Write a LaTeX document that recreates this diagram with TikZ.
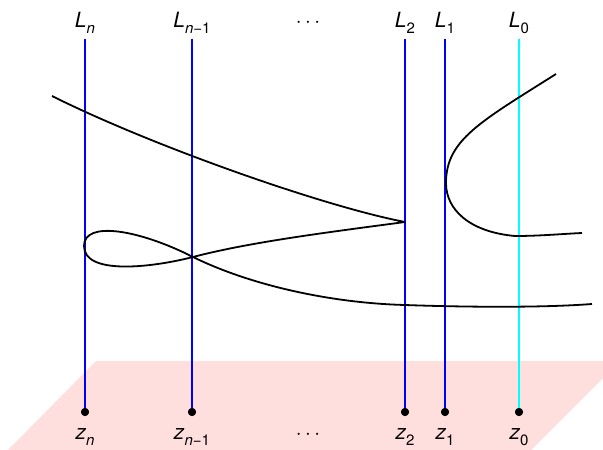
\documentclass[tikz,border=0pt]{standalone}
\usepackage{fontspec}
\setmainfont{TeX Gyre Heros}
\newcommand\lsub[1]{\raisebox{-0.3em}{\fontsize{15}{15}\selectfont #1}}
\definecolor{pinkplane}{RGB}{255,222,222}
\definecolor{lineblue}{RGB}{0,0,255}
\definecolor{linecyan}{RGB}{0,255,255}
\begin{document}
\begin{tikzpicture}[x=1pt,y=-1pt,
  lab/.style={inner sep=0pt,anchor=base,font=\fontsize{21}{23}\selectfont},
  ptdot/.style={circle,fill=black,inner sep=0pt,minimum size=8pt},
  vline/.style={draw=lineblue,line width=1.8pt},
  cline/.style={draw=linecyan,line width=1.8pt},
  curve/.style={draw=black,line width=1.8pt,line join=round}]
\useasboundingbox (0,0) rectangle (603,450);
\clip (0,0) rectangle (603,450);
% plane
\fill[pinkplane] (7,451) -- (96,361) -- (620,361) -- (530,451) -- cycle;
% points
\node[ptdot] (zn) at (85,412) {};
\node[ptdot] (zn1) at (192,412) {};
\node[ptdot] (z2) at (405,412) {};
\node[ptdot] (z1) at (445,412) {};
\node[ptdot] (z0) at (519,412) {};
\coordinate (tn) at (85,39);
\coordinate (tn1) at (192,39);
\coordinate (t2) at (405,39);
\coordinate (t1) at (445,39);
\coordinate (t0) at (519,39);
% vertical lines
\draw[vline] (tn) -- (zn.center);
\draw[vline] (tn1) -- (zn1.center);
\draw[vline] (t2) -- (z2.center);
\draw[vline] (t1) -- (z1.center);
\draw[cline] (t0) -- (z0.center);
% curves
\coordinate (cusp) at (405,222);
\coordinate (cross) at (193,257);
\coordinate (loopl) at (84,246);
\draw[curve] (52,96) .. controls (150,145) and (322,206) .. (cusp)
  .. controls (330,232) and (250,242) .. (cross)
  .. controls (150,268) and (84,275) .. (loopl)
  .. controls (84,220) and (140,230) .. (cross)
  .. controls (250,285) and (330,303) .. (405,305)
  .. controls (460,307) and (540,308) .. (592,304);
\draw[curve] (556,74) .. controls (480,122) and (446,140) .. (446,183)
  .. controls (446,210) and (470,232) .. (515,236)
  .. controls (540,236) and (560,234) .. (582,233);
% re-draw dots on top
\node[ptdot] at (zn) {};
\node[ptdot] at (zn1) {};
\node[ptdot] at (z2) {};
\node[ptdot] at (z1) {};
\node[ptdot] at (z0) {};
% labels
\node[lab] (Ln) at (85,27) {\textit{L}\lsub{\textit{n}}};
\node[lab] (Ln1) at (192,27) {\textit{L}\lsub{\textit{n}−1}};
\node[lab] (Ldots) at (308,27) {$\cdots$};
\node[lab] (L2) at (405,27) {\textit{L}\lsub{2}};
\node[lab] (L1) at (445,27) {\textit{L}\lsub{1}};
\node[lab] (L0) at (519,27) {\textit{L}\lsub{0}};
\node[lab] (Zn) at (85,439) {\textit{z}\lsub{\textit{n}}};
\node[lab] (Zn1) at (192,439) {\textit{z}\lsub{\textit{n}−1}};
\node[lab] (Zdots) at (308,439) {$\cdots$};
\node[lab] (Z2) at (405,439) {\textit{z}\lsub{2}};
\node[lab] (Z1) at (445,439) {\textit{z}\lsub{1}};
\node[lab] (Z0) at (519,439) {\textit{z}\lsub{0}};
\end{tikzpicture}
\end{document}
